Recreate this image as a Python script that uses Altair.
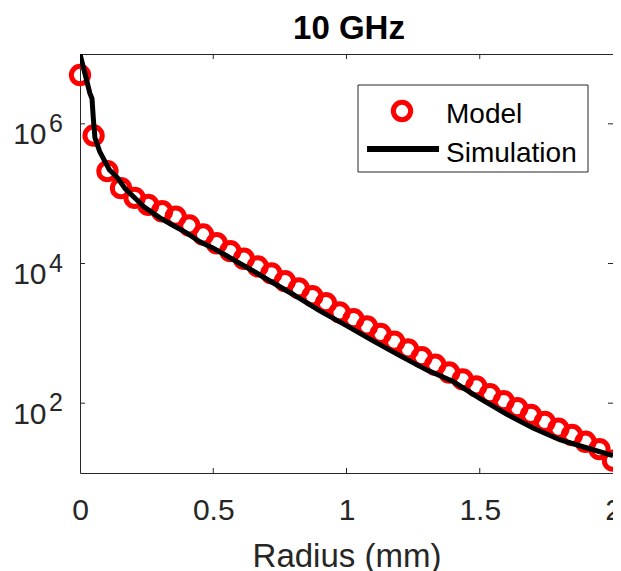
import altair as alt
import pandas as pd

# ---------------- data ----------------
chart_title = "10 GHz"
x_title = "Radius (mm)"
legend_labels = ["Model", "Simulation"]

model_r = [0.0, 0.051, 0.103, 0.154, 0.205, 0.256, 0.308, 0.359, 0.410, 0.462,
           0.513, 0.564, 0.615, 0.667, 0.718, 0.769, 0.821, 0.872, 0.923, 0.974,
           1.026, 1.077, 1.128, 1.179, 1.231, 1.282, 1.333, 1.385, 1.436, 1.487,
           1.538, 1.590, 1.641, 1.692, 1.744, 1.795, 1.846, 1.897, 1.949, 2.0]
model_v = [5.0e6, 6.8e5, 2.1e5, 1.2e5, 8.7e4, 6.9e4, 5.6e4, 4.7e4, 3.5e4, 2.6e4,
           1.95e4, 1.5e4, 1.17e4, 9.1e3, 7.2e3, 5.6e3, 4.4e3, 3.4e3, 2.7e3, 2.0e3,
           1.6e3, 1.26e3, 980, 760, 590, 457, 355, 275, 219, 174,
           135, 107, 85, 68, 54, 43, 35, 28, 22, 15]

sim_r = [0.0, 0.037, 0.045, 0.05, 0.056, 0.074, 0.11, 0.14, 0.17, 0.2,
         0.24, 0.3, 0.35, 0.4, 0.45, 0.5, 0.55, 0.6, 0.65, 0.7,
         0.8, 0.9, 1.0, 1.1, 1.2, 1.3, 1.4, 1.5, 1.6, 1.7,
         1.8, 1.9, 2.0]
sim_v = [1.0e7, 2.75e6, 2.3e6, 1.2e6, 6.3e5, 4.0e5, 2.2e5, 1.7e5, 1.17e5, 9.1e4,
         6.5e4, 4.5e4, 3.5e4, 2.75e4, 2.05e4, 1.66e4, 1.29e4, 1.0e4, 7.8e3, 6.0e3,
         3.6e3, 2.1e3, 1.29e3, 780, 480, 300, 204, 117, 70, 44,
         30, 23, 17.8]

x_ticks = [0, 0.5, 1, 1.5, 2]
x_inner_ticks = [0.5, 1, 1.5]
y_ticks = [1e2, 1e4, 1e6]
y_exps = ["2", "4", "6"]

# ---------------- styling ----------------
W, H = 533, 419
font = "Liberation Sans"
axis_color = "#262626"

model_df = pd.DataFrame({"r": model_r, "v": model_v})
sim_df = pd.DataFrame({"r": sim_r, "v": sim_v})
ytick_df = pd.DataFrame({"v": y_ticks, "e": y_exps})
xtick_df = pd.DataFrame({"r": x_inner_ticks})
one = pd.DataFrame({"k": [0]})

xscale = alt.Scale(domain=[0, 2], nice=False)
yscale = alt.Scale(type="log", domain=[10, 1e7], nice=False)

x_axis = alt.Axis(values=x_ticks, format="~g", labelFontSize=30, labelFont=font,
                  labelColor=axis_color, labelPadding=22, labelFlush=False,
                  ticks=False, domain=False, grid=False,
                  title=x_title, titleFontSize=33, titleFont=font,
                  titleFontWeight="normal", titleColor=axis_color,
                  titleBaseline="alphabetic", titleY=93)
y_axis = alt.Axis(values=y_ticks, labelExpr="'10'", labelFontSize=30, labelFont=font,
                  labelColor=axis_color, labelPadding=34, labelOffset=11,
                  labelFlush=False, ticks=False, domain=False, grid=False, title=None)

X = alt.X("r:Q", scale=xscale, axis=x_axis)
Y = alt.Y("v:Q", scale=yscale, axis=y_axis)

points = alt.Chart(model_df).mark_point(
    shape="circle", filled=False, stroke="#ff0000", color="#ff0000",
    strokeWidth=5, size=300, opacity=1
).encode(x=X, y=Y)

line = alt.Chart(sim_df).mark_line(
    color="black", strokeWidth=5, clip=True
).encode(x=X, y=Y)

tick_left = alt.Chart(ytick_df).mark_rule(color=axis_color, strokeWidth=1).encode(
    y=Y, x=alt.value(0), x2=alt.value(5))
tick_right = alt.Chart(ytick_df).mark_rule(color=axis_color, strokeWidth=1).encode(
    y=Y, x=alt.value(W - 5), x2=alt.value(W))
tick_bottom = alt.Chart(xtick_df).mark_rule(color=axis_color, strokeWidth=1).encode(
    x=X, y=alt.value(H - 5), y2=alt.value(H))
tick_top = alt.Chart(xtick_df).mark_rule(color=axis_color, strokeWidth=1).encode(
    x=X, y=alt.value(0), y2=alt.value(5))

exps = alt.Chart(ytick_df).mark_text(
    align="left", baseline="middle", fontSize=25, font=font, color=axis_color
).encode(y=Y, x=alt.value(-31), text="e:N")

# title as a text mark placed above the plot
title_mark = alt.Chart(one).mark_text(
    align="center", baseline="alphabetic", fontSize=33, fontWeight="bold",
    font=font, color="black"
).encode(x=alt.value(269), y=alt.value(-15), text=alt.value(chart_title))

# custom legend
leg_box = alt.Chart(one).mark_rect(fill="white", stroke=axis_color, strokeWidth=1).encode(
    x=alt.value(278), x2=alt.value(508), y=alt.value(31), y2=alt.value(118))
leg_pt = alt.Chart(one).mark_point(
    shape="circle", filled=False, stroke="#ff0000", strokeWidth=5, size=300, opacity=1
).encode(x=alt.value(322), y=alt.value(57))
leg_line = alt.Chart(one).mark_rule(color="black", strokeWidth=6).encode(
    x=alt.value(287), x2=alt.value(359), y=alt.value(95))
leg_t1 = alt.Chart(one).mark_text(
    align="left", baseline="alphabetic", fontSize=28, font=font, color="black"
).encode(x=alt.value(366), y=alt.value(69), text=alt.value(legend_labels[0]))
leg_t2 = alt.Chart(one).mark_text(
    align="left", baseline="alphabetic", fontSize=28, font=font, color="black"
).encode(x=alt.value(366), y=alt.value(108), text=alt.value(legend_labels[1]))

chart = alt.layer(
    points, line, tick_left, tick_right, tick_bottom, tick_top, exps, title_mark,
    leg_box, leg_pt, leg_line, leg_t1, leg_t2
).properties(
    width=W, height=H,
    autosize=alt.AutoSizeParams(type="none"),
    padding={"left": 72, "top": 46, "right": 0, "bottom": 100},
    background="white",
).configure_view(stroke=axis_color, strokeWidth=1)

chart.save("out.html", embed_options={"renderer": "svg", "actions": False})
